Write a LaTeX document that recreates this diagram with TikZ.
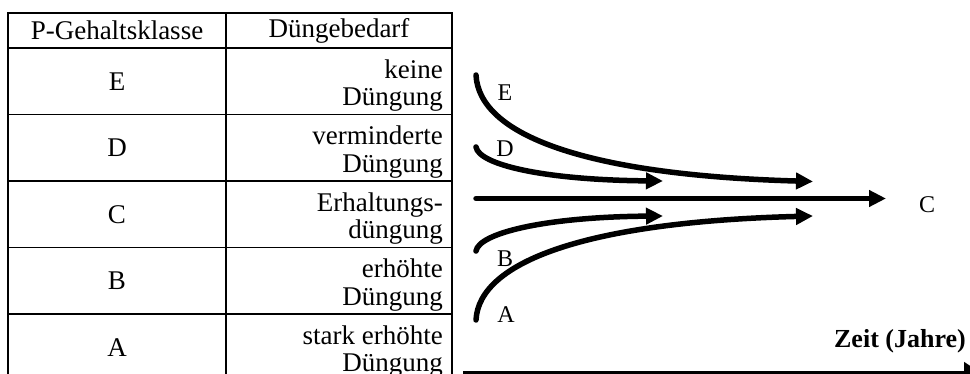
\documentclass[tikz,border=0pt]{standalone}
\usepackage{fontspec}
\setmainfont{Liberation Serif}
\usetikzlibrary{positioning}
\usetikzlibrary{calc}
\usetikzlibrary{arrows.meta}

\begin{document}
\begin{tikzpicture}[x=1pt,y=-1pt,
      tablecell/.style={draw,rectangle,line width=1.2pt,inner sep=0pt,outer sep=0pt,
                        minimum height=66.5pt,font=\fontsize{27}{27.5}\selectfont},
      headcell/.style={tablecell,minimum height=35pt},
      needtext/.style={align=right,inner sep=0pt,font=\fontsize{27}{27.5}\selectfont},
      curvelabel/.style={inner sep=0pt,font=\fontsize{24}{26}\selectfont},
      trend/.style={line width=5.5pt,line cap=round,-{Triangle[length=17pt,width=16pt]}}]
      \useasboundingbox (0,0) rectangle (970,374);
      \clip (0,0) rectangle (970,374);

      % Table
      \node[headcell,minimum width=218pt,anchor=north west] (hclass) at (8,13) {P-Gehaltsklasse};
      \node[headcell,minimum width=226pt,right=0pt of hclass]    (hneed)  {Düngebedarf};
      \node[tablecell,minimum width=218pt,below=0pt of hclass]   (classE) {E};
      \node[tablecell,minimum width=226pt,right=0pt of classE]   (needE)  {};
      \node[tablecell,minimum width=218pt,below=0pt of classE]   (classD) {D};
      \node[tablecell,minimum width=226pt,right=0pt of classD]   (needD)  {};
      \node[tablecell,minimum width=218pt,below=0pt of classD]   (classC) {C};
      \node[tablecell,minimum width=226pt,right=0pt of classC]   (needC)  {};
      \node[tablecell,minimum width=218pt,below=0pt of classC]   (classB) {B};
      \node[tablecell,minimum width=226pt,right=0pt of classB]   (needB)  {};
      \node[tablecell,minimum width=218pt,below=0pt of classB]   (classA) {A};
      \node[tablecell,minimum width=226pt,right=0pt of classA]   (needA)  {};

      % Texts of the second column
      \node[needtext,anchor=east] (textE) at ([xshift=-9pt,yshift=-4.5pt]needE.east) {keine\\Düngung};
      \node[needtext,anchor=east] (textD) at ([xshift=-9pt,yshift=-4.5pt]needD.east) {verminderte\\Düngung};
      \node[needtext,anchor=east] (textC) at ([xshift=-9pt,yshift=-4.5pt]needC.east) {Erhaltungs-\\düngung};
      \node[needtext,anchor=east] (textB) at ([xshift=-9pt,yshift=-4.5pt]needB.east) {erhöhte\\Düngung};
      \node[needtext,anchor=east] (textA) at ([xshift=-9pt,yshift=-4.5pt]needA.east) {stark erhöhte\\Düngung};

      % Curves
      \coordinate (startE) at (476,75);
      \coordinate (startD) at (476,147);
      \coordinate (startC) at (476,198.5);
      \coordinate (startB) at (476,251);
      \coordinate (startA) at (476,320);
      \coordinate (endE)   at (813,181.5);
      \coordinate (endD)   at (663,181);
      \coordinate (endC)   at (886,198.5);
      \coordinate (endB)   at (663,216);
      \coordinate (endA)   at (813,216);

      \draw[trend] (startE) .. controls (479,135) and (585,175) .. (endE);
      \draw[trend] (startD) .. controls (479,165) and (545,180) .. (endD);
      \draw[trend] (startC) -- (endC);
      \draw[trend] (startB) .. controls (479,233) and (545,217) .. (endB);
      \draw[trend] (startA) .. controls (479,262) and (585,222) .. (endA);

      \node[curvelabel] (labelE) at (505,92.5) {E};
      \node[curvelabel] (labelD) at (505,148.5) {D};
      \node[curvelabel] (labelC) at (927,205)  {C};
      \node[curvelabel] (labelB) at (505,259)  {B};
      \node[curvelabel] (labelA) at (506,315)  {A};

      % Time axis
      \coordinate (axisstart) at (463,373.5);
      \coordinate (axisend)   at (982,373.5);
      \draw[line width=6pt,-{Triangle[length=18pt,width=22pt]}] (axisstart) -- (axisend);
      \node[anchor=base east,inner sep=0pt,font=\bfseries\fontsize{26}{28}\selectfont] (time) at (966,348) {Zeit (Jahre)};

    \end{tikzpicture}
\end{document}
